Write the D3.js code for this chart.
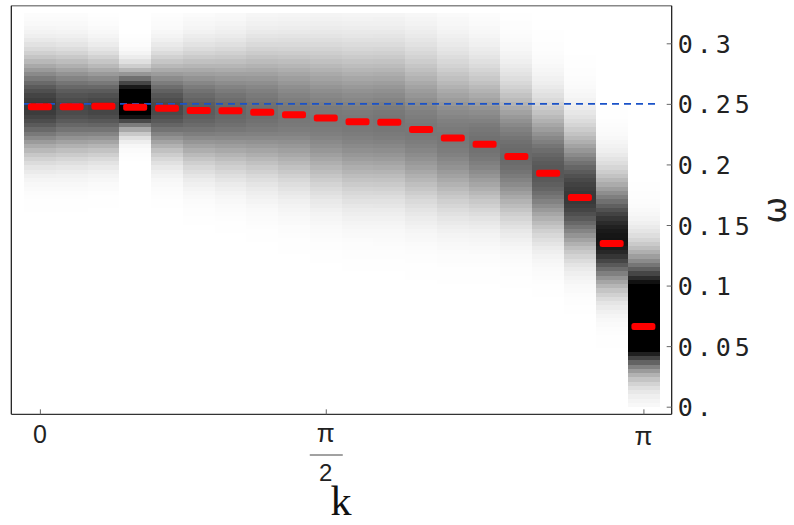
<!DOCTYPE html>
<html>
<head>
<meta charset="utf-8">
<script src="https://cdn.jsdelivr.net/npm/d3@7"></script>
<style>
  body { margin: 0; background: #fff; }
  svg { display: block; }
</style>
</head>
<body>
<div id="chart"></div>
<script>
// momentum index (k = 0 ... pi), one column per k
const kIndex = d3.range(20);

// peak frequency of each column (red dashes)
const peakOmega = [0.2477, 0.2477, 0.248, 0.2472, 0.2463, 0.2446, 0.2443, 0.243, 0.241, 0.2383,
                   0.2352, 0.2349, 0.2288, 0.2218, 0.2167, 0.2066, 0.1928, 0.1728, 0.1347, 0.0663];

// spectral weight of each column: centre, strength, spread up / down
const weightCenter = [0.248, 0.248, 0.248, 0.2505, 0.247, 0.245, 0.244, 0.243, 0.241, 0.238,
                      0.235, 0.235, 0.229, 0.222, 0.217, 0.207, 0.193, 0.173, 0.138, 0.070];
const weightPeak   = [0.78, 0.72, 0.74, 1.3, 0.72, 0.64, 0.60, 0.57, 0.54, 0.53,
                      0.53, 0.54, 0.53, 0.53, 0.56, 0.59, 0.66, 0.78, 0.92, 1.6];
const spreadUp     = [0.026, 0.026, 0.024, 0.016, 0.025, 0.029, 0.031, 0.034, 0.036, 0.038,
                      0.039, 0.039, 0.040, 0.040, 0.039, 0.037, 0.035, 0.034, 0.032, 0.032];
const spreadDown   = [0.025, 0.025, 0.024, 0.013, 0.024, 0.028, 0.030, 0.032, 0.034, 0.036,
                      0.037, 0.037, 0.037, 0.036, 0.034, 0.032, 0.030, 0.028, 0.025, 0.024];

const omegaTop = 0.325;   // top of the density data
const omegaStep = 0.0035; // vertical bin of the density
const refOmega = 0.25;    // blue dashed line

const kTicks = [0, 9, 19];
const omegaTicks = [0, 0.05, 0.1, 0.15, 0.2, 0.25, 0.3];
const omegaTickLabels = ["0.", "0.05", "0.1", "0.15", "0.2", "0.25", "0.3"];

const width = 794;
const height = 525;

const svg = d3.select("#chart").append("svg")
  .attr("width", width)
  .attr("height", height);

// scales
const x = d3.scaleLinear().domain([-0.5, 19.5]).range([24, 659.3]);
const y = d3.scaleLinear().domain([0, 0.3]).range([406.7, 43.3]);

const frameLeft = 11.3, frameRight = 671.7;
const frameTop = y(0.331), frameBottom = y(-0.0063);

// density cells
const cells = [];
kIndex.forEach(i => {
  for (let w0 = 0; w0 < omegaTop - 1e-9; w0 += omegaStep) {
    const w1 = Math.min(w0 + omegaStep, omegaTop);
    const mid = (w0 + w1) / 2;
    const d = mid - weightCenter[i];
    const s = d > 0 ? spreadUp[i] : spreadDown[i];
    const v = weightPeak[i] * Math.exp(-d * d / (2 * s * s));
    cells.push({ i, w0, w1, v });
  }
});

const grey = v => {
  const g = Math.round(255 * (1 - Math.min(1, v)));
  return d3.rgb(g, g, g).toString();
};

svg.append("g").selectAll("rect")
  .data(cells)
  .enter().append("rect")
  .attr("x", d => x(d.i - 0.5))
  .attr("width", d => x(d.i + 0.5) - x(d.i - 0.5) + 0.4)
  .attr("y", d => y(d.w1))
  .attr("height", d => y(d.w0) - y(d.w1) + 0.4)
  .attr("fill", d => grey(d.v))
  .attr("shape-rendering", "crispEdges");

// reference line at omega = 0.25
svg.append("line")
  .attr("x1", x(-0.5)).attr("x2", x(19.5))
  .attr("y1", y(refOmega)).attr("y2", y(refOmega))
  .attr("stroke", "#1a52c8")
  .attr("stroke-width", 1.6)
  .attr("stroke-dasharray", "7,5");

// peak markers
svg.append("g").selectAll("rect")
  .data(kIndex)
  .enter().append("rect")
  .attr("x", i => x(i) - 12)
  .attr("y", i => y(peakOmega[i]) - 3.5)
  .attr("width", 24)
  .attr("height", 7)
  .attr("rx", 2.5)
  .attr("fill", "#ff0000");

// frame
svg.append("line")
  .attr("x1", frameLeft).attr("x2", frameRight)
  .attr("y1", frameTop).attr("y2", frameTop)
  .attr("stroke", "#888").attr("stroke-width", 1.5);
svg.append("line")
  .attr("x1", frameLeft).attr("x2", frameLeft)
  .attr("y1", frameTop).attr("y2", frameBottom)
  .attr("stroke", "#111").attr("stroke-width", 1.2);

// bottom axis
const xAxis = svg.append("g")
  .attr("transform", `translate(0,${frameBottom})`)
  .call(d3.axisBottom(x).tickValues(kTicks).tickSize(-5).tickFormat(""));
xAxis.select(".domain")
  .attr("d", `M${frameLeft},0H${frameRight}`)
  .attr("stroke", "#333").attr("stroke-width", 1.2);
xAxis.selectAll(".tick line").attr("stroke", "#666");

const labelFont = "'Liberation Sans', Arial, sans-serif";
svg.append("text")
  .attr("x", x(kTicks[0])).attr("y", 443)
  .attr("text-anchor", "middle")
  .attr("font-family", labelFont).attr("font-size", 25)
  .attr("fill", "#222")
  .text("0");
svg.append("text")
  .attr("x", x(kTicks[1])).attr("y", 442)
  .attr("text-anchor", "middle")
  .attr("font-family", labelFont).attr("font-size", 26)
  .attr("fill", "#222")
  .text("π");
svg.append("line")
  .attr("x1", x(kTicks[1]) - 16).attr("x2", x(kTicks[1]) + 17)
  .attr("y1", 455).attr("y2", 455)
  .attr("stroke", "#444").attr("stroke-width", 1);
svg.append("text")
  .attr("x", x(kTicks[1])).attr("y", 481)
  .attr("text-anchor", "middle")
  .attr("font-family", labelFont).attr("font-size", 24)
  .attr("fill", "#222")
  .text("2");
svg.append("text")
  .attr("x", x(kTicks[2])).attr("y", 445)
  .attr("text-anchor", "middle")
  .attr("font-family", labelFont).attr("font-size", 26)
  .attr("fill", "#222")
  .text("π");

svg.append("text")
  .attr("x", 341).attr("y", 515)
  .attr("text-anchor", "middle")
  .attr("font-family", "'Liberation Serif', 'DejaVu Serif', serif")
  .attr("font-size", 42)
  .attr("fill", "#111")
  .text("k");

// right axis
const yAxis = svg.append("g")
  .attr("transform", `translate(${frameRight},0)`)
  .call(d3.axisRight(y).tickValues(omegaTicks).tickSize(-5)
    .tickFormat((d, i) => omegaTickLabels[i]));
yAxis.select(".domain")
  .attr("d", `M0,${frameTop}V${frameBottom}`)
  .attr("stroke", "#111").attr("stroke-width", 1.2);
yAxis.selectAll(".tick line").attr("stroke", "#666");
yAxis.selectAll(".tick text")
  .attr("x", 6)
  .attr("dy", "0.36em")
  .attr("font-family", "'DejaVu Sans Mono', monospace")
  .attr("font-size", 25)
  .attr("letter-spacing", 4)
  .attr("fill", "#222");

svg.append("text")
  .attr("transform", "translate(775,210) rotate(-90)")
  .attr("text-anchor", "middle")
  .attr("dominant-baseline", "central")
  .attr("font-family", "'DejaVu Sans', sans-serif")
  .attr("font-size", 32)
  .attr("fill", "#222")
  .text("ω");
</script>
</body>
</html>
